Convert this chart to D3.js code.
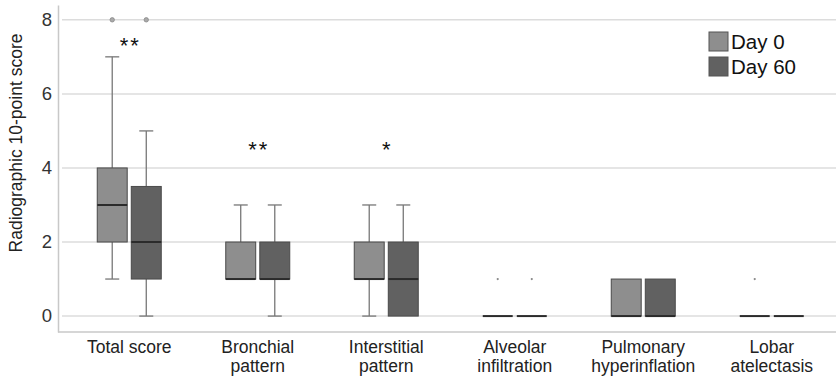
<!DOCTYPE html>
<html>
<head>
<meta charset="utf-8">
<script src="https://cdn.jsdelivr.net/npm/d3@7"></script>
<style>
  body { margin: 0; background: #fff; }
  svg { display: block; font-family: "Liberation Sans", Arial, sans-serif; }
</style>
</head>
<body>
<div id="chart"></div>
<script>
var categories = ["Total score", "Bronchial\npattern", "Interstitial\npattern", "Alveolar\ninfiltration", "Pulmonary\nhyperinflation", "Lobar\natelectasis"];
var groups = ["Day 0", "Day 60"];
// [whiskerLow, q1, median, q3, whiskerHigh]
var day0Stats = [[1, 2, 3, 4, 7], [1, 1, 1, 2, 3], [0, 1, 1, 2, 3], [0, 0, 0, 0, 0], [0, 0, 0, 1, 1], [0, 0, 0, 0, 0]];
var day60Stats = [[0, 1, 2, 3.5, 5], [0, 1, 1, 2, 3], [0, 0, 1, 2, 3], [0, 0, 0, 0, 0], [0, 0, 0, 1, 1], [0, 0, 0, 0, 0]];
var day0Outliers = [[8], [], [], [1], [], [1]];
var day60Outliers = [[8], [], [], [1], [], []];
var significance = [{cat: 0, label: "**", y: 7.1}, {cat: 1, label: "**", y: 4.3}, {cat: 2, label: "*", y: 4.3}];
var yTicks = [0, 2, 4, 6, 8];

var width = 836, height = 377;
var mLeft = 58, mRight = 836, mTop = 5, mBottom = 332;

var svg = d3.select("#chart").append("svg").attr("width", width).attr("height", height);

var x = d3.scaleBand().domain(d3.range(categories.length)).range([65, mRight]);
var xg = d3.scaleBand().domain(groups).range([-32, 32]).paddingInner(0.12);
var y = d3.scaleLinear().domain([-0.43, 8.4]).range([mBottom, mTop]);

var fills = {"Day 0": "#8e8e8e", "Day 60": "#616161"};

// gridlines
svg.append("g").selectAll("line").data(yTicks).join("line")
  .attr("x1", 62).attr("x2", mRight)
  .attr("y1", function(d) { return y(d); }).attr("y2", function(d) { return y(d); })
  .attr("stroke", "#dcdcdc").attr("stroke-width", 1.5);

// axes
var yAxis = svg.append("g").attr("transform", "translate(" + mLeft + ",0)")
  .call(d3.axisLeft(y).tickValues(yTicks).tickSize(0).tickPadding(6));
yAxis.select(".domain").attr("stroke", "#c8c8c8").attr("stroke-width", 1.5);
yAxis.selectAll("text").attr("font-size", 18.5).attr("fill", "#333");

svg.append("line").attr("x1", mLeft).attr("x2", mRight).attr("y1", mBottom).attr("y2", mBottom)
  .attr("stroke", "#c8c8c8").attr("stroke-width", 1.5);

var xAxis = svg.append("g").attr("transform", "translate(0," + mBottom + ")")
  .call(d3.axisBottom(x).tickSize(0).tickFormat(""));
xAxis.select(".domain").remove();
xAxis.selectAll(".tick").each(function(d) {
  var t = d3.select(this).append("text").attr("fill", "#222").attr("font-size", 17.5)
    .attr("text-anchor", "middle");
  categories[d].split("\n").forEach(function(line, i) {
    t.append("tspan").attr("x", 0).attr("y", 21 + i * 18.5).text(line);
  });
});

svg.append("text")
  .attr("transform", "translate(22,143) rotate(-90)")
  .attr("text-anchor", "middle").attr("font-size", 17.5).attr("fill", "#222")
  .text("Radiographic 10-point score");

// boxes
var series = [{g: "Day 0", stats: day0Stats, out: day0Outliers}, {g: "Day 60", stats: day60Stats, out: day60Outliers}];
series.forEach(function(s) {
  var bw = xg.bandwidth();
  s.stats.forEach(function(st, i) {
    var x0 = x(i) + x.bandwidth() / 2 + xg(s.g);
    var cx = x0 + bw / 2;
    var g = svg.append("g");
    // whiskers
    if (st[0] < st[1]) {
      g.append("line").attr("x1", cx).attr("x2", cx).attr("y1", y(st[0])).attr("y2", y(st[1])).attr("stroke", "#777").attr("stroke-width", 1.3);
      g.append("line").attr("x1", cx - 7).attr("x2", cx + 7).attr("y1", y(st[0])).attr("y2", y(st[0])).attr("stroke", "#777").attr("stroke-width", 1.3);
    }
    if (st[4] > st[3]) {
      g.append("line").attr("x1", cx).attr("x2", cx).attr("y1", y(st[4])).attr("y2", y(st[3])).attr("stroke", "#777").attr("stroke-width", 1.3);
      g.append("line").attr("x1", cx - 7).attr("x2", cx + 7).attr("y1", y(st[4])).attr("y2", y(st[4])).attr("stroke", "#777").attr("stroke-width", 1.3);
    }
    if (st[3] > st[1]) {
      g.append("rect").attr("x", x0).attr("width", bw)
        .attr("y", y(st[3])).attr("height", y(st[1]) - y(st[3]))
        .attr("fill", fills[s.g]).attr("stroke", "#4a4a4a").attr("stroke-width", 1);
    }
    g.append("line").attr("x1", x0).attr("x2", x0 + bw).attr("y1", y(st[2])).attr("y2", y(st[2]))
      .attr("stroke", "#2b2b2b").attr("stroke-width", 2);
    s.out[i].forEach(function(v) {
      if (v >= 8) {
        g.append("circle").attr("cx", cx).attr("cy", y(v)).attr("r", 2.2)
          .attr("fill", "#aaa").attr("stroke", "#888").attr("stroke-width", 0.8);
      } else {
        g.append("circle").attr("cx", cx).attr("cy", y(v)).attr("r", 1.1).attr("fill", "#888");
      }
    });
  });
});

// significance marks
svg.append("g").selectAll("text").data(significance).join("text")
  .attr("x", function(d) { return x(d.cat) + x.bandwidth() / 2 + 1; })
  .attr("y", function(d) { return y(d.y); })
  .attr("text-anchor", "middle").attr("font-size", 22).attr("letter-spacing", 2)
  .attr("fill", "#111")
  .text(function(d) { return d.label; });

// legend
var legend = svg.append("g").attr("transform", "translate(709,32)");
groups.forEach(function(gname, i) {
  legend.append("rect").attr("x", 0).attr("y", i * 25).attr("width", 19).attr("height", 19)
    .attr("fill", fills[gname]).attr("stroke", "#555").attr("stroke-width", 1);
  legend.append("text").attr("x", 22).attr("y", i * 25 + 17).attr("font-size", 20.5)
    .attr("fill", "#111").text(gname);
});
</script>
</body>
</html>
